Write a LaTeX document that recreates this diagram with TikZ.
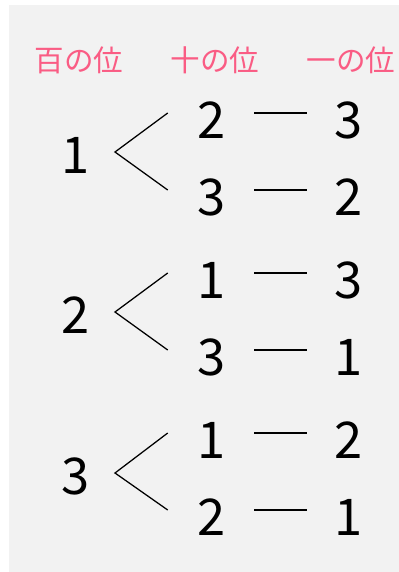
\documentclass[tikz,border=0pt]{standalone}
\usepackage{fontspec}
\setmainfont{Noto Sans CJK JP}
\usetikzlibrary{calc}
\definecolor{headpink}{RGB}{250,92,132}
\definecolor{bggray}{RGB}{242,242,242}

\begin{document}
\begin{tikzpicture}[
    x=0.025cm, y=-0.025cm,
    num/.style={font=\fontsize{36}{36}\selectfont, inner sep=0pt,
                minimum width=0.75cm},
    head/.style={font=\fontsize{21}{21}\selectfont, text=headpink, inner sep=0pt},
    branch/.style={line width=0.9pt},
    link/.style={line width=1pt, shorten <=0.68cm, shorten >=0.68cm},
  ]
  \useasboundingbox (0,0) rectangle (399,572);
  \fill[bggray] (9,5) rectangle (399,572);

  % column headings
  \node[head] (h1) at (79,60) {百の位};
  \node[head] (h2) at (215,60) {十の位};
  \node[head] (h3) at (351,60) {一の位};

  % hundreds = 1
  \node[num] (p1) at (76,155) {1};
  \node[num] (t11) at (212,120) {2};
  \node[num] (t12) at (212,197) {3};
  \node[num] (o11) at (349,120) {3};
  \node[num] (o12) at (349,197) {2};
  \coordinate (v1) at ($(p1)+(39,-3)$);
  \draw[branch] ($(t11.west)+(-29,-7)$) -- (v1) -- ($(t12.west)+(-29,-7)$);
  \draw[link] ([yshift=5pt]t11.east) -- ([yshift=5pt]o11.west);
  \draw[link] ([yshift=5pt]t12.east) -- ([yshift=5pt]o12.west);

  % hundreds = 2
  \node[num] (p2) at (76,315) {2};
  \node[num] (t21) at (212,280) {1};
  \node[num] (t22) at (212,357) {3};
  \node[num] (o21) at (349,280) {3};
  \node[num] (o22) at (349,357) {1};
  \coordinate (v2) at ($(p2)+(39,-3)$);
  \draw[branch] ($(t21.west)+(-29,-7)$) -- (v2) -- ($(t22.west)+(-29,-7)$);
  \draw[link] ([yshift=5pt]t21.east) -- ([yshift=5pt]o21.west);
  \draw[link] ([yshift=5pt]t22.east) -- ([yshift=5pt]o22.west);

  % hundreds = 3
  \node[num] (p3) at (76,476) {3};
  \node[num] (t31) at (212,440) {1};
  \node[num] (t32) at (212,517) {2};
  \node[num] (o31) at (349,440) {2};
  \node[num] (o32) at (349,517) {1};
  \coordinate (v3) at ($(p3)+(39,-3)$);
  \draw[branch] ($(t31.west)+(-29,-7)$) -- (v3) -- ($(t32.west)+(-29,-7)$);
  \draw[link] ([yshift=5pt]t31.east) -- ([yshift=5pt]o31.west);
  \draw[link] ([yshift=5pt]t32.east) -- ([yshift=5pt]o32.west);
\end{tikzpicture}
\end{document}
